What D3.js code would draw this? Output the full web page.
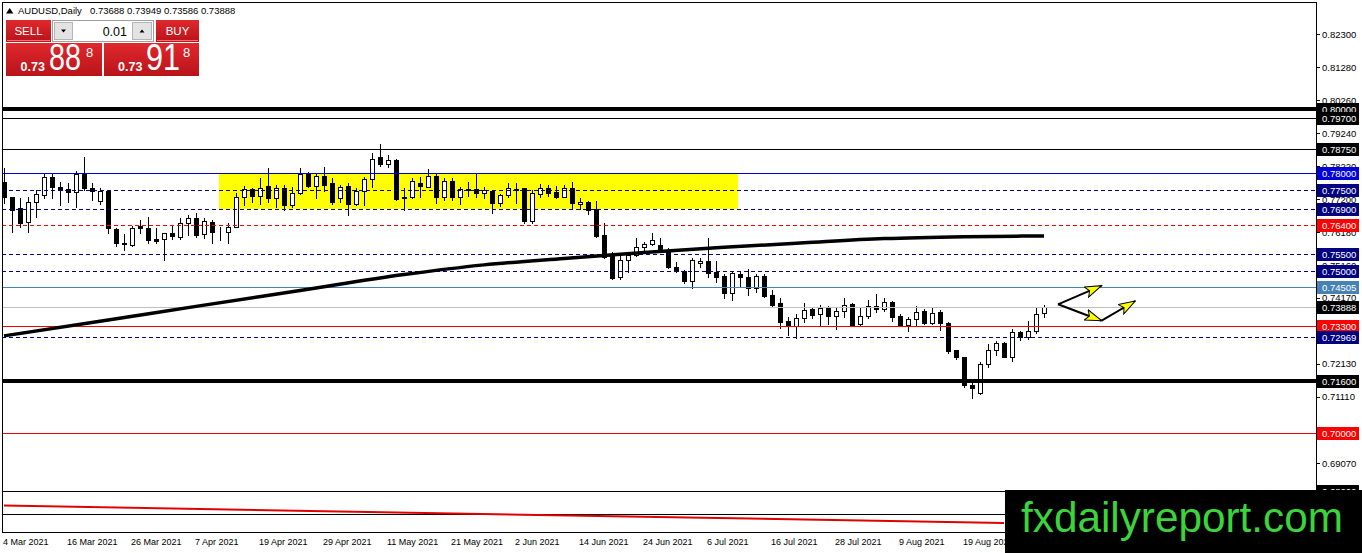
<!DOCTYPE html>
<html><head><meta charset="utf-8">
<script src="https://cdn.jsdelivr.net/npm/d3@7"></script>
<style>
html,body{margin:0;padding:0;background:#fff;overflow:hidden}
svg{display:block;font-family:"Liberation Sans",Arial,sans-serif}
</style></head><body>
<svg id="c" width="1362" height="553"></svg>
<script>
// ---------------- DATA ----------------
const symbolName = "AUDUSD,Daily";
const lastQuote = [0.73688, 0.73949, 0.73586, 0.73888];
const opens = [0.7774,0.7726,0.7692,0.7651,0.7713,0.7733,0.7788,0.7757,0.7751,0.7742,
0.7800,0.7756,0.7716,0.7747,0.7628,0.7586,0.7579,0.7638,0.7631,0.7598,
0.7597,0.7615,0.7605,0.7646,0.7662,0.7612,0.7651,0.7623,0.7620,0.7636,
0.7726,0.7751,0.7730,0.7761,0.7723,0.7754,0.7703,0.7739,0.7800,0.7761,
0.7792,0.7770,0.7723,0.7761,0.7706,0.7746,0.7782,0.7850,0.7829,0.7841,
0.7726,0.7728,0.7771,0.7759,0.7792,0.7726,0.7778,0.7728,0.7751,0.7751,
0.7741,0.7747,0.7708,0.7733,0.7751,0.7754,0.7653,0.7737,0.7754,0.7744,
0.7728,0.7754,0.7705,0.7713,0.7689,0.7610,0.7548,0.7482,0.7533,0.7548,
0.7574,0.7581,0.7579,0.7564,0.7510,0.7500,0.7468,0.7523,0.7530,0.7497,
0.7485,0.7432,0.7489,0.7482,0.7446,0.7485,0.7425,0.7399,0.7345,0.7331,
0.7355,0.7381,0.7366,0.7384,0.7361,0.7377,0.7396,0.7335,0.7361,0.7391,
0.7381,0.7403,0.7361,0.7333,0.7350,0.7375,0.7338,0.7374,0.7340,0.7255,
0.7233,0.7148,0.7122,0.7211,0.7257,0.7278,0.7235,0.7310,0.7296,0.7315,0.73688];
const highs = [0.7816,0.7726,0.7723,0.7728,0.7749,0.7797,0.7800,0.7774,0.7771,0.7807,
0.7852,0.7771,0.7756,0.7749,0.7631,0.7612,0.7638,0.7656,0.7665,0.7631,
0.7617,0.7638,0.7662,0.7672,0.7679,0.7663,0.7656,0.7634,0.7648,0.7741,
0.7761,0.7756,0.7785,0.7816,0.7764,0.7764,0.7759,0.7816,0.7803,0.7800,
0.7819,0.7785,0.7764,0.7770,0.7754,0.7790,0.7862,0.7891,0.7857,0.7844,
0.7754,0.7785,0.7788,0.7813,0.7800,0.7785,0.7785,0.7757,0.7774,0.7800,
0.7759,0.7749,0.7737,0.7771,0.7770,0.7756,0.7749,0.7767,0.7764,0.7761,
0.7764,0.7774,0.7723,0.7716,0.7716,0.7646,0.7559,0.7546,0.7559,0.7600,
0.7590,0.7615,0.7600,0.7569,0.7526,0.7502,0.7538,0.7538,0.7600,0.7530,
0.7489,0.7497,0.7495,0.7504,0.7489,0.7489,0.7441,0.7415,0.7356,0.7366,
0.7399,0.7384,0.7394,0.7392,0.7386,0.7415,0.7399,0.7389,0.7410,0.7427,
0.7416,0.7408,0.7366,0.7358,0.7391,0.7381,0.7384,0.7379,0.7343,0.7257,
0.7235,0.7158,0.7219,0.7274,0.7284,0.7281,0.7319,0.7315,0.7346,0.7384,0.73949];
const lows = [0.7708,0.7620,0.7636,0.7620,0.7667,0.7723,0.7723,0.7703,0.7713,0.7697,
0.7749,0.7718,0.7706,0.7615,0.7576,0.7564,0.7576,0.7615,0.7585,0.7586,
0.7533,0.7597,0.7597,0.7610,0.7605,0.7600,0.7586,0.7595,0.7585,0.7634,
0.7703,0.7713,0.7706,0.7713,0.7697,0.7687,0.7697,0.7737,0.7757,0.7723,
0.7747,0.7706,0.7713,0.7672,0.7703,0.7703,0.7759,0.7823,0.7819,0.7718,
0.7687,0.7723,0.7728,0.7757,0.7710,0.7718,0.7718,0.7705,0.7730,0.7728,
0.7723,0.7677,0.7700,0.7728,0.7710,0.7646,0.7648,0.7726,0.7730,0.7723,
0.7726,0.7689,0.7689,0.7675,0.7605,0.7538,0.7475,0.7475,0.7497,0.7546,
0.7564,0.7579,0.7559,0.7509,0.7495,0.7461,0.7446,0.7512,0.7482,0.7466,
0.7417,0.7410,0.7453,0.7425,0.7435,0.7420,0.7392,0.7322,0.7302,0.7292,
0.7343,0.7353,0.7331,0.7335,0.7320,0.7358,0.7328,0.7331,0.7355,0.7372,
0.7375,0.7346,0.7330,0.7315,0.7328,0.7335,0.7335,0.7317,0.7245,0.7227,
0.7142,0.7106,0.7120,0.7202,0.7240,0.7235,0.7223,0.7285,0.7289,0.7309,0.73586];
const closes = [0.7728,0.7687,0.7648,0.7713,0.7737,0.7788,0.7759,0.7749,0.7742,0.7797,
0.7756,0.7746,0.7746,0.7631,0.7585,0.7582,0.7633,0.7631,0.7595,0.7592,
0.7615,0.7608,0.7646,0.7662,0.7610,0.7653,0.7620,0.7624,0.7636,0.7726,
0.7751,0.7730,0.7756,0.7723,0.7754,0.7703,0.7739,0.7798,0.7761,0.7792,
0.7764,0.7713,0.7759,0.7706,0.7747,0.7782,0.7845,0.7829,0.7841,0.7721,
0.7723,0.7778,0.7762,0.7792,0.7726,0.7778,0.7726,0.7751,0.7749,0.7741,
0.7749,0.7710,0.7733,0.7754,0.7749,0.7654,0.7741,0.7754,0.7741,0.7728,
0.7754,0.7708,0.7713,0.7687,0.7607,0.7543,0.7477,0.7533,0.7548,0.7574,
0.7582,0.7595,0.7564,0.7510,0.7499,0.7468,0.7533,0.7530,0.7494,0.7482,
0.7432,0.7492,0.7480,0.7446,0.7485,0.7423,0.7394,0.7341,0.7333,0.7355,
0.7379,0.7363,0.7384,0.7361,0.7377,0.7394,0.7333,0.7361,0.7391,0.7381,
0.7404,0.7356,0.7333,0.7350,0.7374,0.7338,0.7370,0.7338,0.7253,0.7233,
0.7148,0.7137,0.7211,0.7257,0.7276,0.7235,0.7312,0.7295,0.7315,0.7366,0.73888];

const dateLabels = ["4 Mar 2021","16 Mar 2021","26 Mar 2021","7 Apr 2021","19 Apr 2021","29 Apr 2021",
  "11 May 2021","21 May 2021","2 Jun 2021","14 Jun 2021","24 Jun 2021","6 Jul 2021","16 Jul 2021",
  "28 Jul 2021","9 Aug 2021","19 Aug 2021","31 Aug 2021"];
const dateLabelBars = [0,8,16,24,32,40,48,56,64,72,80,88,96,104,112,120,128];

const priceTicks = [0.82300,0.81280,0.80260,0.79240,0.78220,0.77200,0.76180,0.75160,0.74170,0.72130,0.71110,0.69070];

const levelPrices = [0.80000,0.79700,0.78750,0.78000,0.77500,0.76900,0.76400,0.75500,0.75000,0.74505,0.73888,0.73300,0.72969,0.71600,0.70000,0.68200,0.67500];

const maBars   = [0,12,24,37,50,60,70,80,90,100,110,120,130];
const maValues = [0.7299,0.7344,0.7390,0.7439,0.7488,0.7518,0.7538,0.7556,0.7572,0.7586,0.7599,0.7605,0.7607];

const trendBars   = [0,78,125];
const trendValues = [0.6776,0.6742,0.6722];

const zoneBars   = [26.9, 91.75];
const zonePrices = [0.7800, 0.7690];

const arrowStartBar = 131.75, arrowStartPrice = 0.73964;
const arrowBars   = [137.2, 137.2, 141.4];
const arrowPrices = [0.74538, 0.73458, 0.74066];

const sellParts = ["0.73","88","8"];
const buyParts  = ["0.73","91","8"];
const lotSize = "0.01";
const watermark = "fxdailyreport.com";

// ---------------- STYLES (by level index) ----------------
const NAVY="#000080", RED="#ff0000";
const levelStyle = [
 {c:"#000",w:4,d:null,bg:"#000"},
 {c:"#000",w:1,d:null,bg:"#000"},
 {c:"#000",w:1,d:null,bg:"#000"},
 {c:"#0000cd",w:1,d:null,bg:"#0000dd"},
 {c:NAVY,w:1,d:"4,3",bg:NAVY},
 {c:NAVY,w:1,d:"4,3",bg:NAVY},
 {c:"#ff0000",w:1,d:"4,3",bg:RED},
 {c:NAVY,w:1,d:"4,3",bg:NAVY},
 {c:NAVY,w:1,d:"4,3",bg:NAVY},
 {c:"#4682b4",w:1,d:null,bg:"#4682b4"},
 {c:"#c0c0c0",w:1,d:null,bg:"#000"},
 {c:"#ee0000",w:1,d:null,bg:RED},
 {c:NAVY,w:1,d:"4,3",bg:NAVY},
 {c:"#000",w:4,d:null,bg:"#000"},
 {c:"#ee0000",w:1,d:null,bg:RED},
 {c:"#000",w:1,d:null,bg:"#000"},
 {c:"#000",w:1,d:null,bg:null}
];

// ---------------- CHART ----------------
const svg = d3.select("#c");
const PL=2, PR=1316, PT=2, PB=532;
const x = d3.scaleLinear().domain([-0.25,164]).range([PL,PR]);
const y = d3.scaleLinear().domain([0.69070,0.82300]).range([463,34]);
const fmt = d3.format(".5f");

const defs = svg.append("defs");
const gr = defs.append("linearGradient").attr("id","red").attr("x1",0).attr("y1",0).attr("x2",0).attr("y2",1);
gr.append("stop").attr("offset","0%").attr("stop-color","#e0292d");
gr.append("stop").attr("offset","100%").attr("stop-color","#b8131a");
defs.append("clipPath").attr("id","plot").append("rect")
  .attr("x",PL+1).attr("y",PT+1).attr("width",PR-PL-1).attr("height",PB-PT-1);
defs.append("marker").attr("id","ah").attr("viewBox","0 0 18 12")
  .attr("refX",17).attr("refY",6).attr("markerWidth",18).attr("markerHeight",12)
  .attr("markerUnits","userSpaceOnUse").attr("orient","auto")
  .append("path").attr("d","M0.5,0.5 L17,6 L0.5,11.5 L4,6 Z")
  .attr("fill","#ffff00").attr("stroke","#000").attr("stroke-width",1);

const plot = svg.append("g").attr("clip-path","url(#plot)");

// yellow zone
plot.append("rect")
  .attr("x",Math.round(x(zoneBars[0]))).attr("y",Math.round(y(zonePrices[0])))
  .attr("width",Math.round(x(zoneBars[1]))-Math.round(x(zoneBars[0])))
  .attr("height",Math.round(y(zonePrices[1]))-Math.round(y(zonePrices[0])))
  .attr("fill","#ffff00");

// candles
const bars = d3.range(opens.length).map(i=>({i,o:opens[i],h:highs[i],l:lows[i],c:closes[i]}));
const cg = plot.append("g").attr("shape-rendering","crispEdges");
const cs = cg.selectAll("g.k").data(bars).join("g").attr("class","k");
cs.append("line")
  .attr("x1",d=>Math.round(x(d.i))+0.5).attr("x2",d=>Math.round(x(d.i))+0.5)
  .attr("y1",d=>Math.round(y(d.h))).attr("y2",d=>Math.round(y(d.l))+1)
  .attr("stroke","#000").attr("stroke-width",1);
cs.append("rect")
  .attr("x",d=>Math.round(x(d.i))-1.5).attr("width",4)
  .attr("y",d=>Math.round(y(Math.max(d.o,d.c)))+0.5)
  .attr("height",d=>Math.max(0,Math.round(y(Math.min(d.o,d.c)))-Math.round(y(Math.max(d.o,d.c)))))
  .attr("fill",d=>d.c>=d.o?"#fff":"#000").attr("stroke","#000").attr("stroke-width",1);

// level lines
const lg = plot.append("g").attr("shape-rendering","crispEdges");
levelPrices.forEach((p,k)=>{
  const s=levelStyle[k];
  const yy = Math.round(y(p)) + (s.w%2?0.5:0);
  const ln = lg.append("line").attr("x1",PL).attr("x2",PR).attr("y1",yy).attr("y2",yy)
    .attr("stroke",s.c).attr("stroke-width",s.w);
  if(s.d) ln.attr("stroke-dasharray",s.d);
});

// moving average & lower trend line
plot.append("path").datum(maBars.map((b,i)=>[b,maValues[i]]))
  .attr("d",d3.line().x(d=>x(d[0])).y(d=>y(d[1])).curve(d3.curveMonotoneX))
  .attr("fill","none").attr("stroke","#000").attr("stroke-width",3.5);
plot.append("path").datum(trendBars.map((b,i)=>[b,trendValues[i]]))
  .attr("d",d3.line().x(d=>x(d[0])).y(d=>y(d[1])))
  .attr("fill","none").attr("stroke","#e00000").attr("stroke-width",2);

// arrows
const ag = plot.append("g");
[[arrowStartBar,arrowStartPrice,arrowBars[0],arrowPrices[0]],
 [arrowStartBar,arrowStartPrice,arrowBars[1],arrowPrices[1]],
 [arrowBars[1],arrowPrices[1],arrowBars[2],arrowPrices[2]]].forEach(a=>{
  ag.append("line").attr("x1",x(a[0])).attr("y1",y(a[1])).attr("x2",x(a[2])).attr("y2",y(a[3]))
    .attr("stroke","#000").attr("stroke-width",2).attr("marker-end","url(#ah)");
});

// frame
svg.append("g").attr("shape-rendering","crispEdges").call(g=>{
  g.append("line").attr("x1",PL+0.5).attr("x2",PL+0.5).attr("y1",PT).attr("y2",PB).attr("stroke","#000");
  g.append("line").attr("x1",PL).attr("x2",PR).attr("y1",PT+0.5).attr("y2",PT+0.5).attr("stroke","#000");
  g.append("line").attr("x1",PL).attr("x2",PR).attr("y1",PB+0.5).attr("y2",PB+0.5).attr("stroke","#000");
  g.append("line").attr("x1",PR+0.5).attr("x2",PR+0.5).attr("y1",PT).attr("y2",PB+1).attr("stroke","#000");
});

// price axis
const gy = svg.append("g").attr("transform",`translate(${PR},0)`)
  .call(d3.axisRight(y).tickValues(priceTicks).tickFormat(fmt).tickSize(4).tickPadding(2));
gy.select(".domain").remove();
gy.attr("font-family","Liberation Sans, Arial, sans-serif").attr("font-size",9.5);
gy.selectAll("text").attr("fill","#000");
gy.selectAll("line").attr("stroke","#000").attr("shape-rendering","crispEdges");

// level labels
const lb = svg.append("g");
levelPrices.forEach((p,k)=>{
  const s=levelStyle[k];
  if(!s.bg) return;
  const yy = Math.round(y(p));
  lb.append("rect").attr("x",PR+1).attr("y",yy-6).attr("width",42).attr("height",13).attr("fill",s.bg);
  lb.append("text").attr("x",PR+6).attr("y",yy+3.5).attr("font-size",9.5).attr("fill","#fff").text(fmt(p));
});

// date axis
const gx = svg.append("g").attr("transform",`translate(0,${PB})`)
  .call(d3.axisBottom(x).tickValues(dateLabelBars).tickFormat((d,i)=>dateLabels[i]).tickSize(0).tickPadding(7));
gx.select(".domain").remove();
gx.attr("font-family","Liberation Sans, Arial, sans-serif").attr("font-size",9);
gx.selectAll("text").attr("text-anchor","start").attr("dx",-1.5).attr("fill","#000");

// header
svg.append("path").attr("d","M6,13.5 L9.7,8 L13.4,13.5 Z").attr("fill","#000");
svg.append("text").attr("x",18).attr("y",14).attr("font-size",9.5).text(symbolName);
svg.append("text").attr("x",90).attr("y",14).attr("font-size",9.5).text(lastQuote.map(fmt).join(" "));

// trade panel
const tp = svg.append("g");
tp.append("rect").attr("x",6).attr("y",20).attr("width",45).attr("height",22).attr("fill","url(#red)");
tp.append("line").attr("x1",7).attr("x2",50).attr("y1",40.5).attr("y2",40.5).attr("stroke","#e8777a");
tp.append("text").attr("x",28.5).attr("y",35).attr("text-anchor","middle").attr("font-size",11.5).attr("fill","#fff").text("SELL");
tp.append("rect").attr("x",52.5).attr("y",20.5).attr("width",101).attr("height",21).attr("fill","#fff").attr("stroke","#a0a0a0");
tp.append("rect").attr("x",54.5).attr("y",22.5).attr("width",18).attr("height",17).attr("fill","#e3e3e3").attr("stroke","#b5b5b5");
tp.append("rect").attr("x",132.5).attr("y",22.5).attr("width",19).attr("height",17).attr("fill","#e3e3e3").attr("stroke","#b5b5b5");
tp.append("path").attr("d","M61,29.5 L66,29.5 L63.5,32.5 Z").attr("fill","#000");
tp.append("path").attr("d","M139.5,32.5 L144.5,32.5 L142,29.5 Z").attr("fill","#000");
tp.append("text").attr("x",127).attr("y",35.5).attr("text-anchor","end").attr("font-size",12.5).attr("fill","#000").text(lotSize);
tp.append("rect").attr("x",156).attr("y",20).attr("width",43).attr("height",22).attr("fill","url(#red)");
tp.append("line").attr("x1",157).attr("x2",198).attr("y1",40.5).attr("y2",40.5).attr("stroke","#e8777a");
tp.append("text").attr("x",177.5).attr("y",35).attr("text-anchor","middle").attr("font-size",11.5).attr("fill","#fff").text("BUY");
[[6,96,sellParts,20.5,49,32,86],[104,95,buyParts,118,146,34,183]].forEach(b=>{
  tp.append("rect").attr("x",b[0]).attr("y",43).attr("width",b[1]).attr("height",33).attr("fill","url(#red)");
  tp.append("text").attr("x",b[3]).attr("y",71).attr("font-size",12.5).attr("font-weight","bold").attr("fill","#fff").text(b[2][0]);
  tp.append("text").attr("x",b[4]).attr("y",70).attr("font-size",36).attr("fill","#fff")
    .attr("textLength",b[5]).attr("lengthAdjust","spacingAndGlyphs").text(b[2][1]);
  tp.append("text").attr("x",b[6]).attr("y",56.5).attr("font-size",13).attr("fill","#fff").text(b[2][2]);
});

// watermark
svg.append("rect").attr("x",1005).attr("y",490).attr("width",357).attr("height",63).attr("fill","#000");
svg.append("text").attr("x",1021).attr("y",532).attr("font-size",42).attr("fill","#3bd43b")
  .attr("textLength",322).attr("lengthAdjust","spacingAndGlyphs").text(watermark);
</script>
</body></html>
